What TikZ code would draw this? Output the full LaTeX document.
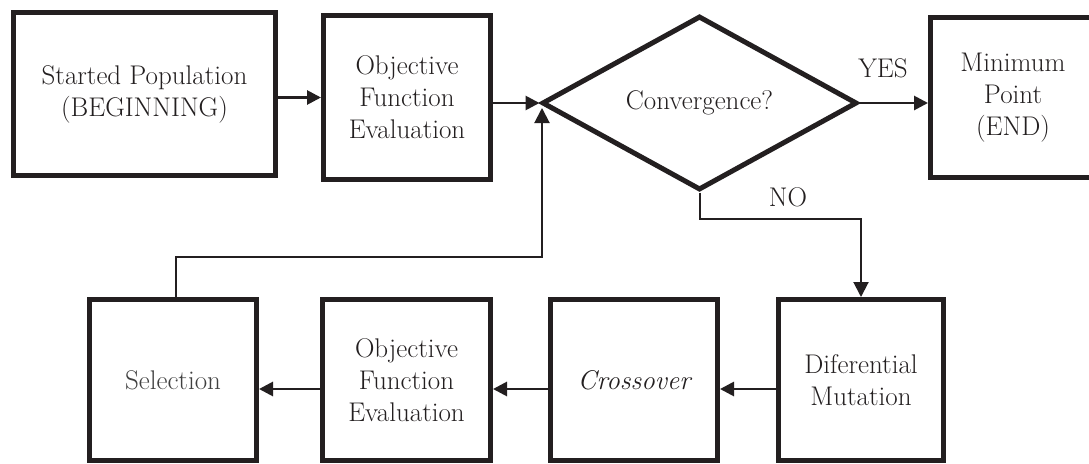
\documentclass[tikz,border=0pt]{standalone}
\usepackage{fontspec}
\usetikzlibrary{arrows.meta,shapes.geometric,calc}
\definecolor{ink}{RGB}{35,31,32}
\begin{document}
\begin{tikzpicture}[x=1pt,y=-1pt,
  box/.style={draw=ink,line width=5pt,align=center,inner sep=0pt,text=ink,
    font=\fontsize{27}{32}\selectfont},
  dec/.style={diamond,draw=ink,line width=5pt,align=center,inner sep=0pt,text=ink,
    font=\fontsize{27}{32}\selectfont},
  lab/.style={text=ink,inner sep=0pt,font=\fontsize{27}{32}\selectfont},
  arr/.style={draw=ink,line width=2.8pt,-{Triangle[length=14pt,width=14pt]}},
  thinarr/.style={draw=ink,line width=2pt,-{Triangle[length=15pt,width=15pt]}}]
\useasboundingbox (0,0) rectangle (1089,463);
\clip (0,0) rectangle (1089,463);
\fill[white] (0,0) rectangle (1089,463);
% top row
\node[box,minimum width=262pt,minimum height=163pt] (start) at (144.5,94) {Started Population\\(BEGINNING)};
\node[box,minimum width=167pt,minimum height=164pt] (ofe1) at (407,97.5) {Objective\\Function\\Evaluation};
\node[dec,minimum width=315pt,minimum height=174pt] (conv) at (699.5,103) {Convergence?};
\node[box,minimum width=165pt,minimum height=160pt] (fin) at (1013,97.5) {Minimum\\Point\\(END)};
% bottom row
\node[box,minimum width=167pt,minimum height=161pt,text=black!75] (sel) at (173,380) {Selection};
\node[box,minimum width=168pt,minimum height=161pt] (ofe2) at (406.5,380) {Objective\\Function\\Evaluation};
\node[box,minimum width=167pt,minimum height=161pt] (cross) at (634,380) {\itshape Crossover};
\node[box,minimum width=165pt,minimum height=161pt] (dm) at (861,380) {Diferential\\Mutation};
% labels
\node[lab] (yes) at (883,68) {YES};
\node[lab] (no) at (788,197) {NO};
% helper coordinates
\coordinate (nolevel) at (0,219);
\coordinate (fbtop) at (542,108);
\coordinate (fblevel) at (0,257);
% connectors
\draw[arr] (start.east |- ofe1.west) -- (ofe1.west);
\draw[arr] (ofe1.east |- conv.west) -- (conv.west);
\draw[arr] (conv.east) -- (fin.west |- conv.east);
\draw[thinarr] (conv.south) |- (dm.north |- nolevel) -- (dm.north);
\draw[arr] ($(dm.west)+(0,9)$) -- ($(cross.east)+(0,9)$);
\draw[arr] ($(cross.west)+(0,9)$) -- ($(ofe2.east)+(0,9)$);
\draw[arr] ($(ofe2.west)+(0,9)$) -- ($(sel.east)+(0,9)$);
\draw[thinarr] ([xshift=3pt]sel.north) |- (fbtop |- fblevel) -- (fbtop);
\end{tikzpicture}
\end{document}
